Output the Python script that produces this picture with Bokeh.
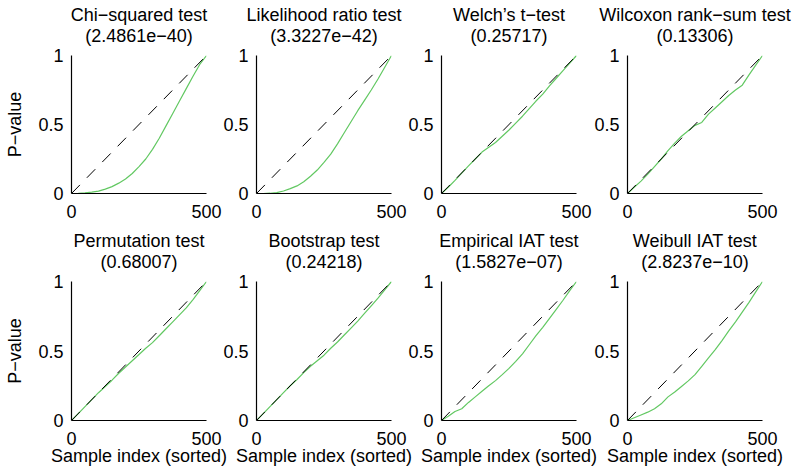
from bokeh.plotting import figure
from bokeh.layouts import column, row
from bokeh.models import Range1d, FixedTicker, Title
from bokeh.embed import file_html
from bokeh.resources import INLINE

# Sorted p-values of each test over 500 simulated samples (read every 25 samples)
sample_index = [0, 25, 50, 75, 100, 125, 150, 175, 200, 225, 250,
                275, 300, 325, 350, 375, 400, 425, 450, 475, 500]

chi_squared = [0, 0.001, 0.004, 0.010, 0.017, 0.032, 0.050, 0.075, 0.105, 0.145, 0.195,
               0.250, 0.320, 0.400, 0.490, 0.580, 0.670, 0.760, 0.850, 0.935, 1.0]
likelihood_ratio = [0, 0.0, 0.002, 0.006, 0.018, 0.035, 0.055, 0.085, 0.125, 0.170, 0.225,
                    0.285, 0.360, 0.440, 0.520, 0.600, 0.675, 0.750, 0.830, 0.915, 1.0]
welch_t = [0, 0.045, 0.095, 0.148, 0.200, 0.250, 0.300, 0.335, 0.370, 0.415, 0.460,
           0.510, 0.560, 0.615, 0.670, 0.720, 0.780, 0.835, 0.890, 0.945, 1.0]
wilcoxon = [0, 0.045, 0.090, 0.140, 0.195, 0.250, 0.310, 0.365, 0.415, 0.455, 0.494,
            0.515, 0.575, 0.620, 0.665, 0.710, 0.750, 0.785, 0.860, 0.930, 1.0]
permutation = [0, 0.050, 0.100, 0.150, 0.200, 0.245, 0.290, 0.340, 0.385, 0.430, 0.475,
               0.520, 0.560, 0.610, 0.660, 0.710, 0.760, 0.810, 0.870, 0.935, 1.0]
bootstrap = [0, 0.050, 0.100, 0.150, 0.200, 0.250, 0.295, 0.345, 0.390, 0.430, 0.470,
             0.520, 0.565, 0.615, 0.665, 0.715, 0.770, 0.825, 0.880, 0.940, 1.0]
empirical_iat = [0, 0.030, 0.065, 0.085, 0.130, 0.170, 0.210, 0.250, 0.287, 0.330, 0.375,
                 0.425, 0.480, 0.545, 0.610, 0.670, 0.735, 0.800, 0.865, 0.935, 1.0]
weibull_iat = [0, 0.020, 0.040, 0.060, 0.085, 0.120, 0.170, 0.205, 0.245, 0.285, 0.330,
               0.390, 0.450, 0.510, 0.575, 0.645, 0.710, 0.780, 0.850, 0.925, 1.0]

test_names = ["Chi\u2212squared test", "Likelihood ratio test", "Welch\u2019s t\u2212test",
              "Wilcoxon rank\u2212sum test", "Permutation test", "Bootstrap test",
              "Empirical IAT test", "Weibull IAT test"]
combined_p = ["(2.4861e\u221240)", "(3.3227e\u221242)", "(0.25717)", "(0.13306)",
              "(0.68007)", "(0.24218)", "(1.5827e\u221207)", "(2.8237e\u221210)"]
series = [chi_squared, likelihood_ratio, welch_t, wilcoxon,
          permutation, bootstrap, empirical_iat, weibull_iat]

# Uniform expectation: sorted p-values of a well-calibrated test
uniform_x = [0, 500]
uniform_y = [0, 1]

x_ticks = [0, 500]
y_ticks = [0, 0.5, 1]
y_tick_labels = {0: "0", 0.5: "0.5", 1: "1"}

FONT = "Liberation Sans"
FS = "18px"
GREEN = "#62c862"

FRAME_W = 135
LEFT = 71          # room for tick labels / axis label on every panel
RIGHT = [40, 40, 40, 33]
SHIFT = [0, -61, -61, -60]   # panels share their side margins (transparent canvases)


def panel(i):
    r, c = divmod(i, 4)
    if r == 0:
        top, frame_h, bottom = 55, 138, 32
    else:
        top, frame_h, bottom = 56, 139, 55
    p = figure(width=LEFT + FRAME_W + RIGHT[c], height=top + frame_h + bottom,
               x_range=Range1d(0, 500), y_range=Range1d(0, 1), title=None,
               output_backend="svg", toolbar_location=None, tools="",
               min_border_left=LEFT, min_border_right=RIGHT[c],
               min_border_top=top, min_border_bottom=bottom,
               margin=(0, 0, 0, SHIFT[c]))
    p.outline_line_color = None
    p.grid.visible = False
    p.background_fill_color = None
    p.border_fill_color = None

    p.line(sample_index, series[i], line_color=GREEN, line_width=1.2)
    p.line(uniform_x, uniform_y, line_color="black", line_width=1.0, line_dash="12 10")

    for ax in (p.xaxis[0], p.yaxis[0]):
        ax.axis_line_color = "black"
        ax.axis_line_width = 1.2
        ax.major_tick_in = 0
        ax.major_tick_out = 0
        ax.minor_tick_in = 0
        ax.minor_tick_out = 0
        ax.major_label_text_font = FONT
        ax.major_label_text_font_size = FS
        ax.major_label_text_color = "black"
        ax.axis_label_text_font = FONT
        ax.axis_label_text_font_size = FS
        ax.axis_label_text_font_style = "normal"
        ax.axis_label_text_color = "black"
    p.xaxis.ticker = FixedTicker(ticks=x_ticks)
    p.yaxis.ticker = FixedTicker(ticks=y_ticks)
    p.yaxis.major_label_overrides = y_tick_labels
    p.xaxis.major_label_standoff = 11
    p.yaxis.major_label_standoff = 8
    if c == 0:
        p.yaxis.axis_label = "P\u2212value"
        p.yaxis.axis_label_standoff = 10
    if r == 1:
        p.xaxis.axis_label = "Sample index (sorted)"
        p.xaxis.axis_label_standoff = -2

    # two-line heading: combined p-value nearest the frame, test name above it
    p.add_layout(Title(text=combined_p[i], align="center", standoff=20,
                       text_font=FONT, text_font_size=FS, text_font_style="normal",
                       text_color="black"), "above")
    p.add_layout(Title(text=test_names[i], align="center", standoff=-22,
                       text_font=FONT, text_font_size=FS, text_font_style="normal",
                       text_color="black"), "above")
    return p


panels = [panel(i) for i in range(8)]
layout = column(row(*panels[:4]), row(*panels[4:]))

open("out.html", "w").write(file_html(layout, INLINE))
